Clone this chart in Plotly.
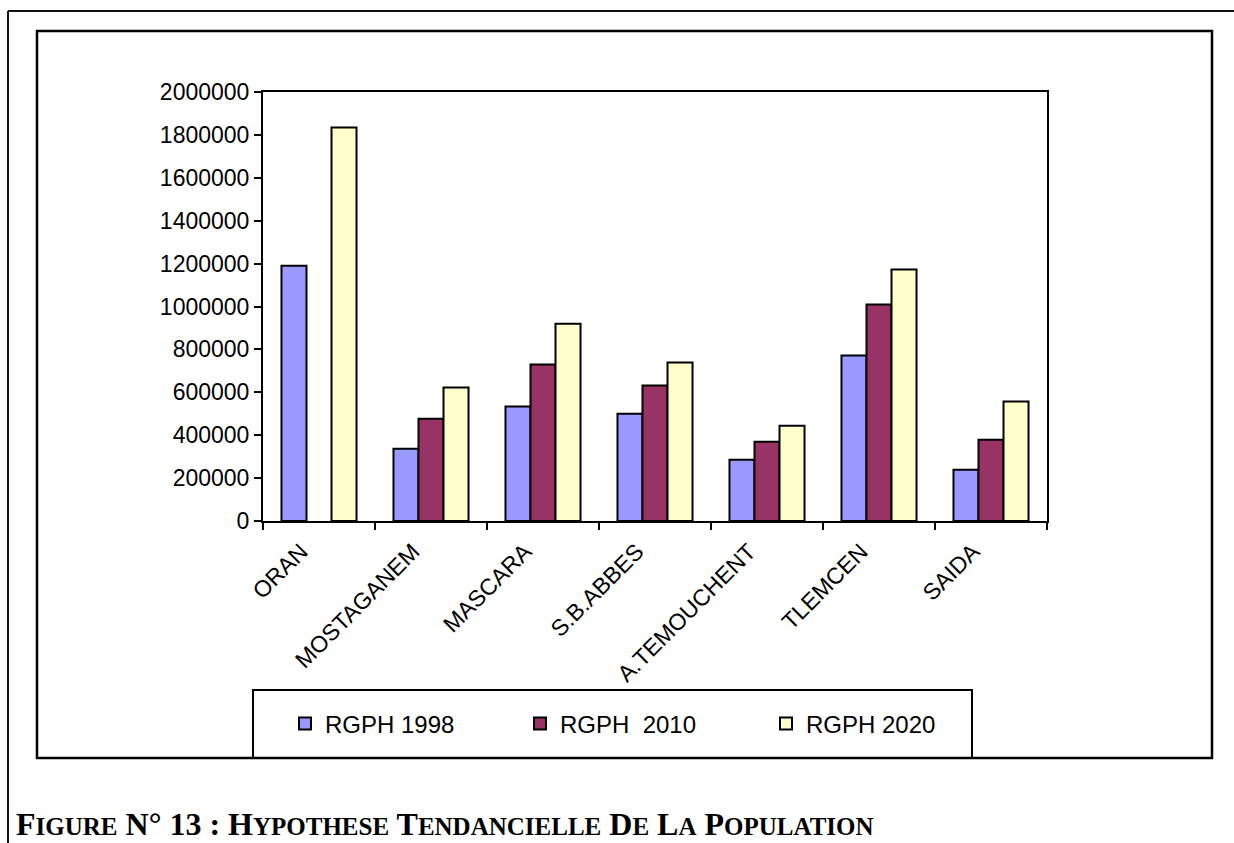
import plotly.graph_objects as go

categories = ["ORAN", "MOSTAGANEM", "MASCARA", "S.B.ABBES", "A.TEMOUCHENT", "TLEMCEN", "SAIDA"]
rgph_1998 = [1190000, 337000, 534000, 500000, 286000, 771000, 239000]
rgph_2010 = [None, 477000, 730000, 632000, 369000, 1009000, 379000]
rgph_2020 = [1835000, 622000, 919000, 739000, 444000, 1172000, 557000]
series_names = ["RGPH 1998", "RGPH\u00a0\u00a02010", "RGPH 2020"]
y_ticks = list(range(0, 2000001, 200000))

W, H = 1234, 843
L, R, T, B = 263, 1047, 92, 521  # plot area in pixels


def fx(px):
    return (px - L) / (R - L)


def fy(py):
    return (B - py) / (B - T)


colors = ["#9999FF", "#993366", "#FFFFCC"]
font_family = "Arial, 'Liberation Sans', sans-serif"

fig = go.Figure()
for i, (name, vals) in enumerate(zip(series_names, [rgph_1998, rgph_2010, rgph_2020])):
    fig.add_trace(go.Bar(
        x=categories, y=vals, name=name,
        marker=dict(color=colors[i], line=dict(color="#000000", width=2)),
        legend="legend" if i == 0 else f"legend{i + 1}",
    ))

legend_style = dict(
    orientation="h", xanchor="left", yanchor="middle",
    bgcolor="rgba(0,0,0,0)", borderwidth=0,
    font=dict(family=font_family, size=24, color="#000000"),
)
legend_x = [285, 520, 766]
fig.update_layout(
    legend=dict(x=fx(legend_x[0]), y=fy(724), **legend_style),
    legend2=dict(x=fx(legend_x[1]), y=fy(724), **legend_style),
    legend3=dict(x=fx(legend_x[2]), y=fy(724), **legend_style),
)

fig.update_layout(
    width=W, height=H,
    margin=dict(l=L, r=W - R, t=T, b=H - B, pad=0),
    paper_bgcolor="#FFFFFF", plot_bgcolor="#FFFFFF",
    barmode="group", bargap=0.33, bargroupgap=0,
    font=dict(family=font_family, size=23, color="#000000"),
    showlegend=True,
)

fig.update_xaxes(
    type="category", tickangle=-45, showgrid=False,
    showline=True, linecolor="#000000", linewidth=2, mirror=True,
    ticks="outside", ticklen=7, tickwidth=1.5, tickcolor="#000000",
    tickson="boundaries", ticklabelshift=-18, ticklabelstandoff=6,
    tickfont=dict(family=font_family, size=23, color="#000000"),
)
fig.update_yaxes(
    range=[0, 2000000], tickvals=y_ticks, ticktext=[str(v) for v in y_ticks],
    showgrid=False, zeroline=False,
    showline=True, linecolor="#000000", linewidth=2, mirror=True,
    ticks="outside", ticklen=7, tickwidth=1.5, tickcolor="#000000",
    tickfont=dict(family=font_family, size=23, color="#000000"),
)

shapes = [
    # outer page frame (top + left)
    dict(type="line", xref="paper", yref="paper", x0=fx(8), x1=fx(1240), y0=fy(11), y1=fy(11),
         line=dict(color="#111111", width=2)),
    dict(type="line", xref="paper", yref="paper", x0=fx(8), x1=fx(8), y0=fy(11), y1=fy(850),
         line=dict(color="#111111", width=2)),
    # chart frame
    dict(type="rect", xref="paper", yref="paper", x0=fx(37), x1=fx(1212), y0=fy(758), y1=fy(31),
         line=dict(color="#000000", width=2.5), fillcolor="rgba(0,0,0,0)", layer="below"),
    # legend box
    dict(type="rect", xref="paper", yref="paper", x0=fx(253), x1=fx(972), y0=fy(758), y1=fy(690),
         line=dict(color="#000000", width=2), fillcolor="rgba(0,0,0,0)", layer="below"),
]
fig.update_layout(shapes=shapes)

big, small = 32, 25
def smallcaps(word):
    return f"{word[0]}<span style='font-size:{small}px'>{word[1:]}</span>" if len(word) > 1 else word

caption = ("F<span style='font-size:%dpx'>IGURE</span> N° 13 : " % small) + " ".join(
    smallcaps(w) for w in ["HYPOTHESE", "TENDANCIELLE", "DE", "LA", "POPULATION"])
fig.add_annotation(
    xref="paper", yref="paper", x=fx(15), y=fy(843), xanchor="left", yanchor="bottom",
    text="<b>" + caption + "</b>", showarrow=False, borderpad=0,
    font=dict(family="'Liberation Serif', 'Times New Roman', serif", size=big, color="#000000"),
)

fig.write_html("out.html", config={"displayModeBar": False},
               post_script="document.body.style.margin='0';document.body.style.overflow='hidden';")
